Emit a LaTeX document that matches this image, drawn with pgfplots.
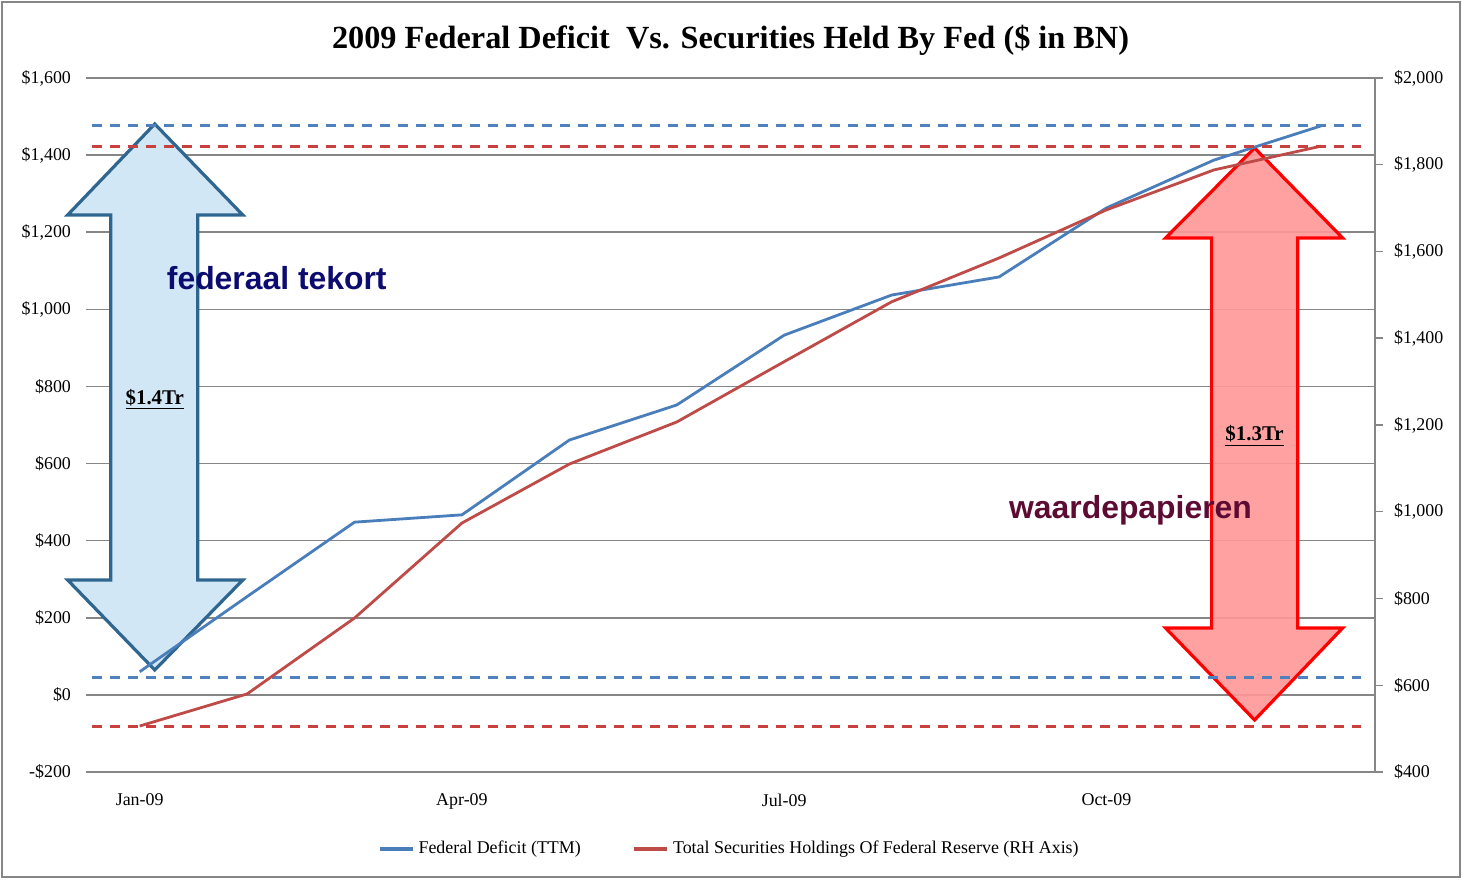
\documentclass[border=0pt]{standalone}
\usepackage{pgfplots}
\pgfplotsset{compat=1.18}
\usepackage{fontspec}
\setmainfont{Liberation Serif}
\newfontfamily\arialfont{Liberation Sans}
\definecolor{serblue}{HTML}{4A7EBB}
\definecolor{serred}{HTML}{BE4B48}
\definecolor{dashblue}{HTML}{4F81BD}
\definecolor{dashred}{HTML}{C8413F}
\definecolor{gridgray}{HTML}{868686}
\definecolor{arrowblueedge}{HTML}{2F6690}
\definecolor{arrowbluefill}{HTML}{D2E7F6}
\definecolor{arrowredfill}{HTML}{FF9797}
\definecolor{navytext}{HTML}{0B0B70}
\definecolor{maroontext}{HTML}{5E0B33}

\pgfplotstableread{
x deficit
0 60
1 255
2 448
3 467
4 661
5 752
6 933
7 1037
8 1084
9 1263
10 1387
11 1476
}\deficittable

\pgfplotstableread{
x securities
0 506
1 580
2 755
3 974
4 1110
5 1207
6 1346
7 1484
8 1585
9 1696
10 1788
11 1843
}\securitiestable

\begin{document}
\begin{tikzpicture}
\begin{axis}[
  scale only axis, width=644.5bp, height=347bp,
  xmin=-0.5, xmax=11.5, ymin=-200, ymax=1600,
  axis line style={draw=none},
  xtick={0,3,6,9},
  xticklabels={Jan-09,Apr-09,Jul-09,Oct-09},
  ytick={-200,0,200,400,600,800,1000,1200,1400,1600},
  yticklabels={-\$200,\$0,\$200,\$400,\$600,\$800,{\$1,000},{\$1,200},{\$1,400},{\$1,600}},
  major tick length=0pt,
  ymajorgrids,
  grid style={gridgray, line width=0.75bp},
  tick label style={font=\fontsize{9}{10}\selectfont},
  xticklabel shift=7.5bp,
  yticklabel shift=4bp,
  title={2009 Federal Deficit\ \ Vs. Securities Held By Fed (\$ in BN)},
  title style={font=\bfseries\fontsize{16.2}{18}\selectfont, at={(0.5,1)}, anchor=center, yshift=13bp},
  clip=false,
]
% blue double arrow (left-axis units)
\draw[arrowblueedge, line width=1.6bp, line join=miter, fill=arrowbluefill]
  (axis cs:0.14,1480.7) -- (axis cs:0.9597,1244.7) -- (axis cs:0.5404,1244.7) -- (axis cs:0.5404,298)
  -- (axis cs:0.9597,298) -- (axis cs:0.14,64.6) -- (axis cs:-0.6708,298) -- (axis cs:-0.2702,298)
  -- (axis cs:-0.2702,1244.7) -- (axis cs:-0.6708,1244.7) -- cycle;
% red double arrow (left-axis units)
\draw[red, line width=1.6bp, line join=miter, fill=arrowredfill, fill opacity=0.9]
  (axis cs:10.379,1418.4) -- (axis cs:11.199,1185) -- (axis cs:10.780,1185) -- (axis cs:10.780,173.5)
  -- (axis cs:11.199,173.5) -- (axis cs:10.379,-65.1) -- (axis cs:9.550,173.5) -- (axis cs:9.979,173.5)
  -- (axis cs:9.979,1185) -- (axis cs:9.550,1185) -- cycle;
\addplot[serblue, line width=1.4bp] table[x=x, y=deficit] {\deficittable};
\addplot[dashblue, line width=1.5bp, dash pattern=on 5bp off 4bp] coordinates {(-0.447,1478) (11.37,1478)};
\addplot[dashblue, line width=1.5bp, dash pattern=on 5bp off 4bp] coordinates {(-0.447,45) (11.37,45)};
\end{axis}

\begin{axis}[
  scale only axis, width=644.5bp, height=347bp,
  xmin=-0.5, xmax=11.5, ymin=400, ymax=2000,
  axis x line=none,
  axis y line*=right,
  y axis line style={gridgray, line width=0.75bp},
  ytick={400,600,800,1000,1200,1400,1600,1800,2000},
  yticklabels={\$400,\$600,\$800,{\$1,000},{\$1,200},{\$1,400},{\$1,600},{\$1,800},{\$2,000}},
  tick align=outside,
  major tick length=4bp,
  ytick style={gridgray, line width=0.75bp},
  tick label style={font=\fontsize{9}{10}\selectfont},
  yticklabel shift=2bp,
  clip=false,
  legend columns=2,
  legend style={at={(0.5,-0.111)}, anchor=center, draw=none, fill=none,
    font=\fontsize{9}{10}\selectfont,
    /tikz/every even column/.append style={column sep=24bp}},
  legend image code/.code={\draw[#1, line width=1.6bp] (0bp,0bp) -- (16.5bp,0bp);},
]
\addlegendimage{serblue}
\addlegendentry{Federal Deficit (TTM)}
\addplot[serred, line width=1.4bp] table[x=x, y=securities] {\securitiestable};
\addlegendentry{Total Securities Holdings Of Federal Reserve (RH Axis)}
\addplot[dashred, line width=1.5bp, dash pattern=on 5bp off 4bp, forget plot] coordinates {(-0.447,1841) (11.37,1841)};
\addplot[dashred, line width=1.5bp, dash pattern=on 5bp off 4bp, forget plot] coordinates {(-0.447,506) (11.37,506)};

\node[text=navytext, font=\arialfont\bfseries\fontsize{16}{18}\selectfont] at (axis cs:1.276,1539) {federaal tekort};
\node[text=maroontext, font=\arialfont\bfseries\fontsize{16}{18}\selectfont] at (axis cs:9.224,1004) {waardepapieren};
\node[font=\bfseries\fontsize{10.5}{12}\selectfont] at (axis cs:0.14,1259) {\underline{\$1.4Tr}};
\node[font=\bfseries\fontsize{10.5}{12}\selectfont] at (axis cs:10.379,1175) {\underline{\$1.3Tr}};
\end{axis}

\draw[gridgray, line width=1bp] (-42bp,-52.5bp) rectangle (687bp,385bp);
\pgfresetboundingbox
\useasboundingbox (-43bp,-54bp) rectangle (688bp,386bp);
\end{tikzpicture}
\end{document}
